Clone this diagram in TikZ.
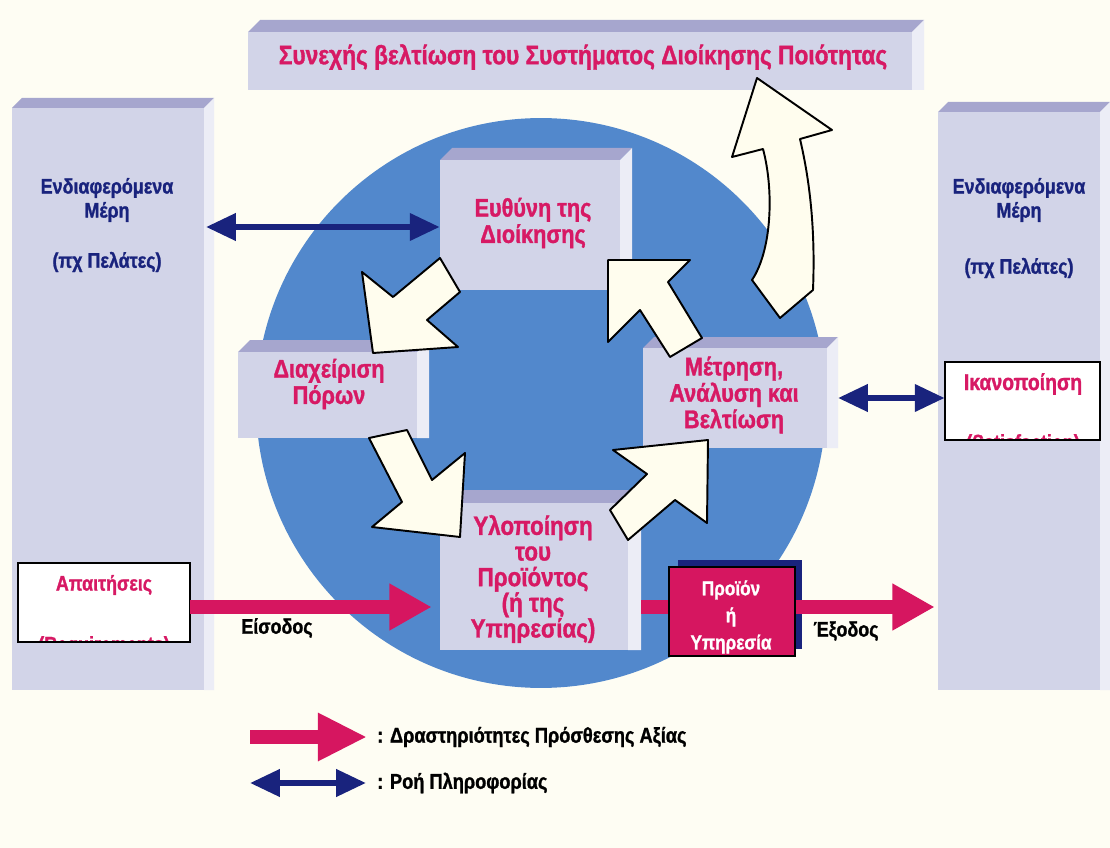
\documentclass[tikz,border=0pt]{standalone}
\usepackage{fontspec}
\setmainfont{Liberation Sans}[FakeStretch=0.85, BoldFeatures={FakeBold=1.2}]
\usetikzlibrary{arrows.meta,fit,calc}
\definecolor{bg}{RGB}{254,253,243}
\definecolor{pinkt}{RGB}{215,25,100}
\definecolor{navyt}{RGB}{25,35,125}
\definecolor{lav}{RGB}{210,212,232}
\definecolor{lavtop}{RGB}{166,166,206}
\definecolor{lavside}{RGB}{236,237,246}
\definecolor{ballblue}{RGB}{82,136,204}
\definecolor{crim}{RGB}{214,22,96}
\definecolor{arrowfill}{RGB}{255,253,238}
\tikzset{
  front/.style={fill=lav, inner sep=0pt, draw=none},
  bevtop/.style={fill=lavtop},
  bevside/.style={fill=lavside},
  ptxt/.style={text=pinkt, font=\bfseries\fontsize{14.5}{15}\selectfont, align=center},
  ntxt/.style={text=navyt, font=\bfseries\fontsize{12}{13.7}\selectfont, align=center},
  ktxt/.style={text=black, font=\bfseries\fontsize{12}{14}\selectfont},
  whitearrow/.style={fill=arrowfill, draw=black, line width=1.1pt, line join=round},
  info/.style={draw=navyt, line width=3.4pt, {Triangle[length=17pt,width=15pt]}-{Triangle[length=17pt,width=15pt]}},
  valuearrow/.style={draw=crim, line width=8.5pt, -{Triangle[length=24pt,width=25pt]}},
  legval/.style={draw=crim, line width=8.5pt, -{Triangle[length=28pt,width=25.6pt]}},
  whitebox/.style={fill=white, draw=none, inner sep=0pt},
}
\newcommand\threebox[6]{%
  \fill[bevtop] (#2,#3) -- (#2+#6,#3-#6) -- (#4+#6,#3-#6) -- (#4,#3) -- cycle;
  \fill[bevside] (#4,#3) -- (#4+#6,#3-#6) -- (#4+#6,#5) -- (#4,#5) -- cycle;
  \node[front, fit={(#2,#3)(#4,#5)}] (#1) {};
}
\begin{document}
\begin{tikzpicture}[x=0.02cm,y=-0.02cm]
\fill[bg] (0,0) rectangle (1110,848);
\useasboundingbox (0,0) rectangle (1110,848);

% side panels and banner
\threebox{lp}{12}{108}{204}{690}{10}
\threebox{rp}{938}{112}{1100}{690}{10}
\threebox{banner}{248}{32}{912}{90}{12}

% central disc
\fill[ballblue] (541,403) circle[radius=5.7cm];

% central boxes
\threebox{resp}{440}{160}{620}{290}{12}
\threebox{res}{238}{352}{417}{438}{12}
\threebox{meas}{643}{348}{827}{448}{11}
\threebox{impl}{440}{503}{628}{650}{13}

% white cycle arrows
\draw[whitearrow] (362,272) -- (393,297) -- (440,258) -- (460,292) -- (427,320) -- (458,347) -- (373,353) -- cycle;
\draw[whitearrow] (369,438) -- (402,502) -- (372,527) -- (460,537) -- (465,453) -- (432,480) -- (407,430) -- cycle;
\draw[whitearrow] (610,510) -- (647,474) -- (613,450) -- (708,440) -- (707,523) -- (675,500) -- (628,540) -- cycle;
\draw[whitearrow] (608,260) -- (608,342) -- (640,310) -- (670,357) -- (702,338) -- (668,282) -- (690,260) -- cycle;
\draw[whitearrow] (757,78) -- (832,130) -- (800,139) .. controls (812,190) and (815,240) .. (813,290) -- (780,318) -- (752,280) .. controls (772,250) and (774,190) .. (763,149) -- (732,157) -- cycle;

% requirement / satisfaction boxes
\node[whitebox, fit={(18,563)(190,642)}] (req) {};
\node[whitebox, fit={(945,362)(1100,440)}] (sat) {};
\node[ptxt, font=\bfseries\fontsize{12}{14}\selectfont] (reqt) at (104,585) {Απαιτήσεις};
\node[ptxt, font=\bfseries\fontsize{13}{14}\selectfont] (satt) at (1023,384) {Ικανοποίηση};
\begin{scope}
  \clip (req.south west) rectangle (req.north east);
  \node[ptxt, font=\bfseries\fontsize{12}{14}\selectfont] (reqe) at (104,646) {(Requirements)};
\end{scope}
\begin{scope}
  \clip (sat.south west) rectangle (sat.north east);
  \node[ptxt, font=\bfseries\fontsize{12}{14}\selectfont] (sate) at (1023,444) {(Satisfaction)};
\end{scope}
\draw[black, line width=1.1pt] (req.south west) rectangle (req.north east);
\draw[black, line width=1.1pt] (sat.south west) rectangle (sat.north east);

% product box
\fill[navyt] (678,560) rectangle (802,649);
\node[fill=crim, draw=black, line width=0.9pt, inner sep=0pt, fit={(669,567)(795,656)}] (prod) {};

% flow arrows
\coordinate (flow) at (0,607);
\coordinate (implside) at (641,607);
\draw[valuearrow] (req.east |- flow) -- ([xshift=-0.16cm]impl.west |- flow);
\draw[crim, line width=7.5pt] (implside) -- (prod.west |- flow);
\draw[valuearrow] (prod.east |- flow) -- ([xshift=-0.06cm]rp.west |- flow);

% information arrows
\coordinate (lpside) at (206,227);
\coordinate (measside) at (838,398);
\draw[info] (lpside) -- (resp.west |- lpside);
\draw[info] (measside) -- (sat.west |- measside);

% texts
\node[ptxt, font=\bfseries\fontsize{15.2}{16}\selectfont] (bannert) at (583,57) {Συνεχής βελτίωση του Συστήματος Διοίκησης Ποιότητας};
\node[ntxt] (lpt1) at (107,200) {Ενδιαφερόμενα\\Μέρη};
\node[ntxt] (lpt2) at (107,262) {(πχ Πελάτες)};
\node[ntxt] (rpt1) at (1019,200) {Ενδιαφερόμενα\\Μέρη};
\node[ntxt] (rpt2) at (1019,268) {(πχ Πελάτες)};
\node[ptxt] (respt) at (533,223) {Ευθύνη της\\Διοίκησης};
\node[ptxt] (rest) at (329,384) {Διαχείριση\\Πόρων};
\node[ptxt] (meast) at (734,395) {Μέτρηση,\\Ανάλυση και\\Βελτίωση};
\node[ptxt, font=\bfseries\fontsize{15}{14.6}\selectfont] (implt) at (533,579) {Υλοποίηση\\του\\Προϊόντος\\(ή της\\Υπηρεσίας)};
\node[align=center, text=white, font=\bfseries\fontsize{11.5}{15.4}\selectfont] (prodt) at (731,617) {Προϊόν\\ή\\Υπηρεσία};
\node[ktxt] (inl) at (277,628) {Είσοδος};
\node[ktxt] (outl) at (846,631) {Έξοδος};

% legend
\coordinate (lga) at (250,737);
\coordinate (lgb) at (367,737);
\coordinate (lgc) at (250,783);
\coordinate (lgd) at (366,783);
\draw[legval] (lga) -- (lgb);
\draw[info] (lgc) -- (lgd);
\node[ktxt, anchor=west, font=\bfseries\fontsize{12.2}{14}\selectfont] (lgt1) at (371,737) {: Δραστηριότητες Πρόσθεσης Αξίας};
\node[ktxt, anchor=west, font=\bfseries\fontsize{12.2}{14}\selectfont] (lgt2) at (371,783) {: Ροή Πληροφορίας};
\end{tikzpicture}
\end{document}
